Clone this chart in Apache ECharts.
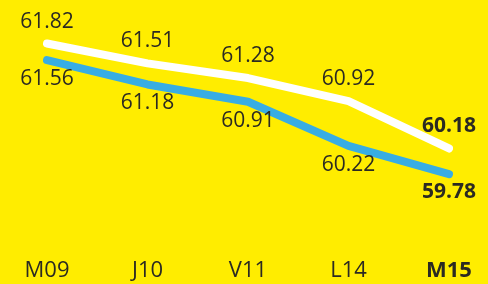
<!DOCTYPE html>
<html>
<head>
<meta charset="utf-8">
<script src="https://cdn.jsdelivr.net/npm/echarts@6/dist/echarts.min.js"></script>
<style>
  html, body { margin: 0; padding: 0; background: #FFED00; }
  #chart { width: 488px; height: 284px; }
</style>
</head>
<body>
<div id="chart"></div>
<script>
var categories = ['M09', 'J10', 'V11', 'L14', 'M15'];
var whiteValues = [61.82, 61.51, 61.28, 60.92, 60.18];
var blueValues = [61.56, 61.18, 60.91, 60.22, 59.78];

var textColor = '#2b2a22';
var font = 'Open Sans';

// last point gets a bold label
function withLastBold(values, dist) {
    return values.map(function(v, i) {
        if (i === values.length - 1) {
            return { value: v, label: { fontWeight: 'bold', distance: dist } };
        }
        return v;
    });
}

var dom = document.getElementById('chart');
var myChart = echarts.init(dom);
var option = {
    backgroundColor: '#FFED00',
    animation: false,
    grid: { left: 47, right: 39, top: -2, bottom: 60 },
    xAxis: {
        type: 'category',
        data: categories,
        boundaryGap: false,
        axisLine: { show: false },
        axisTick: { show: false },
        axisLabel: {
            interval: 0,
            margin: 36,
            fontFamily: font,
            fontSize: 22,
            color: textColor,
            formatter: function(v, i) {
                return i === categories.length - 1 ? '{b|' + v + '}' : v;
            },
            rich: { b: { fontWeight: 'bold', fontFamily: font, fontSize: 22, color: textColor } }
        }
    },
    yAxis: {
        type: 'value',
        min: 59,
        max: 62.5,
        show: false,
        splitLine: { show: false }
    },
    series: [{
        type: 'line',
        data: withLastBold(whiteValues, 11),
        symbol: 'circle',
        symbolSize: 1,
        showSymbol: true,
        itemStyle: { color: 'rgba(0,0,0,0)' },
        lineStyle: { color: '#ffffff', width: 8, cap: 'round', join: 'round' },
        label: {
            show: true,
            position: 'top',
            distance: 11,
            fontFamily: font,
            fontSize: 21,
            color: textColor
        },
        z: 3
    }, {
        type: 'line',
        data: withLastBold(blueValues, 7),
        symbol: 'circle',
        symbolSize: 1,
        showSymbol: true,
        itemStyle: { color: 'rgba(0,0,0,0)' },
        lineStyle: { color: '#38ADE3', width: 8, cap: 'round', join: 'round' },
        label: {
            show: true,
            position: 'bottom',
            distance: 8,
            fontFamily: font,
            fontSize: 21,
            color: textColor
        },
        z: 2
    }]
};
myChart.setOption(option, true);
</script>
</body>
</html>
